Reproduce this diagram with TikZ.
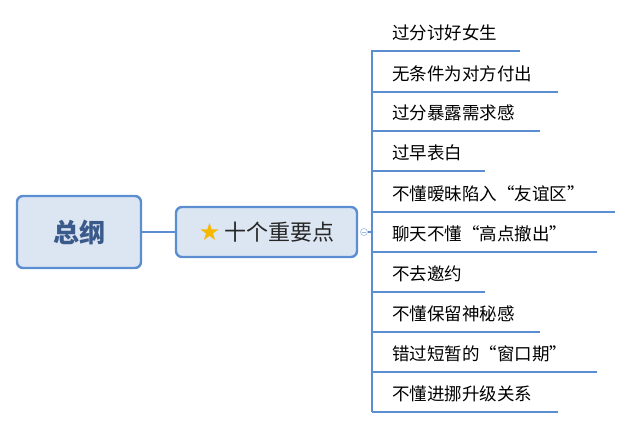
\documentclass[tikz,border=0pt]{standalone}
\usepackage{fontspec}
\setmainfont{Noto Sans CJK SC}
\newfontfamily\symfont{DejaVu Sans}
\definecolor{boxfill}{HTML}{DCE6F2}
\definecolor{boxline}{HTML}{5B8ED1}
\definecolor{roottext}{HTML}{3B5A8C}
\definecolor{starcol}{HTML}{F5B800}
\tikzset{
  topic/.style={draw=boxline, line width=2.4pt, fill=boxfill, rounded corners=6pt},
  item/.style={anchor=west, inner sep=0pt, font=\fontsize{17.5}{20}\selectfont},
  branch/.style={draw=boxline, line width=2pt}
}
\begin{document}
\begin{tikzpicture}[x=1pt,y=-1pt]
  \useasboundingbox (0,0) rectangle (634,429);
  \node[topic, minimum width=124, minimum height=72, font=\fontsize{26}{30}\selectfont\bfseries, text=roottext]
    (root) at (79,232) {总纲};
  \node[topic, minimum width=181, minimum height=50, font=\fontsize{22}{24}\selectfont, text=black!85]
    (main) at (266.5,232) {{\symfont\color{starcol}\fontsize{24}{24}\selectfont★}\,十个重要点};
  \draw[branch] (root.east) -- (main.west);
  \node[circle, draw=boxline!60, line width=0.6pt, inner sep=0pt, minimum size=7pt, fill=white] (fold) at (364,232) {};
  \draw[boxline!60, line width=0.5pt] ([xshift=-1.8pt]fold.center) -- ([xshift=1.8pt]fold.center);
  \coordinate (trunk) at (372,232);
  \draw[branch] (fold.east) -- (trunk);
  \draw[branch] (372,50) -- (372,412);
  \foreach \y/\txt/\xend [count=\i] in {
      51/过分讨好女生/520,
      92/无条件为对方付出/558,
      131/过分暴露需求感/540,
      171/过早表白/485,
      212/不懂暧昧陷入“友谊区”/615,
      252/聊天不懂“高点撤出”/597,
      292/不去邀约/485,
      332/不懂保留神秘感/540,
      372/错过短暂的“窗口期”/597,
      412/不懂进挪升级关系/558} {
    \node[item] (item\i) at (392,\y-18) {\txt};
    \coordinate (end\i) at (\xend,\y);
    \draw[branch] (372,\y) -- (end\i);
  }
\end{tikzpicture}
\end{document}
